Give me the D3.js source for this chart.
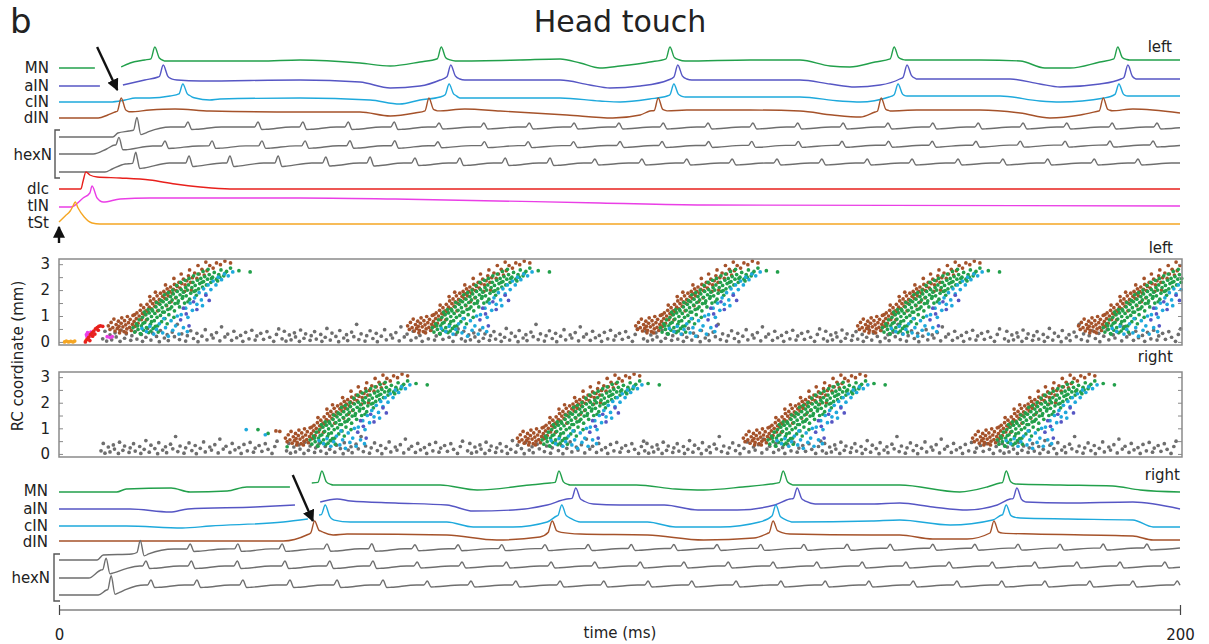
<!DOCTYPE html>
<html>
<head>
<meta charset="utf-8">
<script src="https://cdn.jsdelivr.net/npm/d3@7"></script>
<style>
  body { margin: 0; background: #fff; }
  text { font-family: "DejaVu Sans", sans-serif; fill: #222; }
</style>
</head>
<body>
<svg width="1209" height="644"></svg>
<script>
// ---- traces: [time ms, potential offset] keypoints; null = gap; spikes: [time ms, amplitude]
const mnLBase = [[0,0],[6.4,0],null,[11.1,1],[12.7,5],[15.3,8],[17.1,10],[18.9,7],[21,7],[35.9,7],[43,8],[53.7,5],[59.1,2],[64.4,6],[68.2,10],[70.7,7],[82.2,8],[89.4,9],[93,5],[96.5,0],[100.1,2],[105.4,6],[109,10],[111.7,7],[123.3,8],[132.2,8],[137.6,2],[141.1,1],[145.6,6],[149,10],[151,8],[164.3,8],[171.5,7],[175.9,0],[180.4,0],[185.7,6],[188.9,10],[191,8],[200,8]];
const mnLSpikes = [[17.1,11],[68.2,11],[109,11],[149,11],[188.9,11]];
const aInLBase = [[0,0],[7.3,0],null,[11.4,1],[15.3,6],[17.7,9],[18.6,11],[20,7],[21.1,6],[25.2,5],[43,6],[53.7,4],[59.1,-2],[64.4,0],[68,6],[69.9,11],[71.5,7],[72.4,6],[89.4,6],[94.7,1],[98.3,-2],[103.7,0],[108.7,6],[110.4,11],[112,7],[112.9,6],[132.2,6],[137.6,2],[142,-1],[146.5,1],[150,7],[151.3,11],[153,7],[169.7,7],[175,2],[178.6,-1],[185.7,2],[189.5,7],[190.7,11],[192,7],[200,7]];
const aInLSpikes = [[18.6,10],[69.9,10],[110.4,10],[151.3,10],[190.7,10]];
const cInLBase = [[0,0],[9.1,0],[11.8,2],[13.6,4],[16.2,4],[19.8,6],[22.1,9],[23.3,6],[24.3,4],[26.9,2],[28.7,3],[43,4],[55.5,2],[60.8,-2],[64.4,2],[68,5],[69.6,9],[70.8,6],[71.5,4],[89.4,4],[96.5,1],[100.1,0],[105.4,3],[108.5,6],[109.7,9],[110.8,6],[111.7,5],[132.2,5],[139.3,1],[142.9,0],[148.1,5],[149.7,9],[150.8,6],[151.8,6],[167.9,6],[175,1],[178.6,0],[186.5,4],[189.1,9],[190.2,6],[191.1,6],[200,6]];
const cInLSpikes = [[22.1,9],[69.6,9],[109.7,9],[149.7,9],[189.1,9]];
const dInLBase = [[0,0],[7,0],[8.7,3],[10,6],[11.1,8],[12.3,6],[16.2,8],[20.7,9],[26.9,7],[43,6],[53.7,6],[59.1,2],[63.5,5],[66,8],[67.3,7],[72.4,9],[78.7,7],[90.6,3],[98.8,0],[103.7,3],[105.4,7],[106.9,8],[108,7],[112,8],[123.3,8],[132.2,7],[138,3],[143,1],[145.6,6],[146.7,8],[148,7],[153,8],[164.3,8],[171.5,5],[176.8,0],[182.2,3],[185.5,7],[186.3,8],[187.5,7],[191.6,9],[200,5]];
const dInLSpikes = [[11.1,12],[66,12],[106.9,12],[146.7,12],[186.3,12]];
const hex1LBase = [[0,0],[9.6,0],[10.5,4],[12.5,6],[16,10],[200,10]];
const hex1LSpikes = [[13.9,12],[23.0,5],[35.5,5],[43.5,5],[51.6,5],[59.8,5],[67.8,4],[75.8,4],[83.9,4],[91.9,4],[99.9,4],[107.8,4],[115.8,4],[123.8,4],[131.8,4],[139.9,4],[147.9,4],[155.9,4],[164.0,4],[172.0,4],[179.8,4],[187.9,4],[195.9,4]];
const hex2LBase = [[0,0],[6.1,0],[8.5,5],[10,9],[12,8],[200,9]];
const hex2LSpikes = [[10.7,8],[18.9,5],[27.3,5],[36.2,5],[43.9,5],[51.9,5],[59.9,5],[67.6,4],[75.9,4],[83.7,4],[91.8,4],[100.1,4],[107.6,4],[115.9,4],[123.6,4],[131.9,4],[139.7,4],[148.0,4],[155.8,4],[163.6,4],[171.5,4],[179.5,4],[187.5,4],[195.2,4]];
const hex3LBase = [[0,0],[8.2,0],[9.5,3],[11.8,8],[14,9],[200,9]];
const hex3LSpikes = [[13.7,11],[23.2,7],[30.5,7],[39.1,7],[47.6,6],[55.5,6],[63.5,5],[71.5,5],[79.6,5],[87.6,5],[95.6,4],[104.0,4],[112.0,4],[120.1,4],[128.1,4],[136.1,4],[144.2,4],[152.2,4],[160.4,4],[168.4,4],[176.4,4],[184.7,4],[192.5,4]];
const dlcBase = [[0,0],[3.9,0],[4.3,8],[4.8,17],[5.5,14],[6.8,12],[10.9,11],[16.2,9],[20.7,5],[25.2,2],[30.5,0],[200,0]];
const tInBase = [[0,-1],[2.1,-1],[4.3,8],[5.5,13],[5.9,20],[6.8,8],[7.9,4],[10.9,7],[16.2,8],[43,8],[60,7],[96.5,3],[115,1],[200,0]];
const tStBase = [[0,1],[1.1,7],[2,12],[2.5,17],[2.9,21],[3.4,15],[4.5,6],[5.9,0],[7.3,-1],[200,-1]];

const mnRBase = [[0,0],[10.3,0],[12,3],[20,4],[23.4,0],[30,1],[33.5,5],[41.2,5],null,[45.1,9],[46.9,10],[48.9,7],[68,7],[74.6,2],[84,7],[87.6,9],[89.2,10],[91.2,7],[103,7],[110,3],[115,2],[122,5],[127,8],[129.2,10],[131,7],[150,7],[160.7,0],[165.6,5],[167.9,9],[169,10],[170.6,8],[178.6,7],[188,6],[192.9,2],[200,0]];
const mnRSpikes = [[46.9,11],[89.2,11],[129.2,11],[169,11]];
const aInRBase = [[0,0],[12.7,0],[19.8,-3],[23,0],[35,2],[42.1,4],null,[46.6,7],[49.6,10],[52,8],[60,6],[69.2,4],[73.9,-2],[81,-1],[87.1,4],[90.6,10],[92.2,11],[93.5,8],[95.3,5],[100,4],[108,4],[114,-1],[121,-1],[127.7,4],[130.4,10],[131.7,11],[133,8],[134.9,5],[145,5],[150,6],[155.9,2],[162,-1],[167.4,4],[169.7,10],[170.9,11],[172.3,7],[179.8,6],[191.6,7],[200,0]];
const aInRSpikes = [[92.2,10],[131.7,10],[170.9,10]];
const cInRBase = [[0,0],[12,0],[22,-2],[27,0],[40,4],[44.4,7],null,[46.4,11],[47.5,12],[48.9,6],[52,4],[69.2,4],[73.9,-1],[81,-1],[87.1,4],[88.8,10],[89.7,12],[90.6,9],[93,4],[105,4],[110,-1],[118,-1],[125,4],[127.2,10],[127.9,12],[128.8,8],[131,4],[145,5],[150,6],[159,1],[166.6,6],[168.2,11],[169,12],[170,9],[171.5,8],[180,7],[191.6,6],[195.2,-1],[200,-1]];
const cInRSpikes = [[47.5,9],[89.7,9],[127.9,9],[169,9]];
const dInRBase = [[0,0],[40,0],[44.2,6],[45.6,10],[46.9,9],[48.9,6],[51.4,7],[69.2,6],[78.1,1],[85.8,4],[87.4,9],[88,10],[88.8,9],[93,7],[105,6],[115,1],[124,3],[126.6,8],[127.4,10],[128.3,9],[130.4,7],[145,6],[150,6],[155.9,2],[162,2],[166.1,8],[166.8,10],[167.5,8],[173.8,7],[191.6,5],[195.2,1],[200,1]];
const dInRSpikes = [[45.6,10],[88,10],[127.4,10],[166.8,10]];
const hex1RBase = [[0,0],[6.8,0],[7.9,5],[13,6],[16,11],[200,12]];
const hex1RSpikes = [[14.5,11],[23.4,5],[31.9,5],[39.8,5],[47.8,5],[55.8,5],[63.5,4],[71.2,4],[79.0,4],[86.7,4],[94.4,4],[102.1,4],[109.7,4],[117.4,4],[125.2,4],[132.9,4],[140.6,4],[148.3,4],[155.9,4],[163.4,4],[171.1,4],[178.6,4],[186.3,4],[194.1,4]];
const hex2RBase = [[0,0],[5.3,0],[7.5,8],[9.5,10],[12,12],[200,12]];
const hex2RSpikes = [[8.4,11],[15.5,5],[23.6,5],[31.8,5],[40.3,5],[48.3,5],[56.0,5],[63.9,4],[71.9,4],[79.8,4],[87.8,4],[95.6,4],[103.7,4],[111.5,4],[119.4,4],[127.4,4],[135.2,4],[143.3,4],[151.1,4],[158.8,4],[166.5,4],[174.1,4],[181.6,4],[189.3,4],[197.3,4]];
const hex3RBase = [[0,0],[7,0],[8.5,5],[10.5,8],[12,10],[200,10]];
const hex3RSpikes = [[9.3,13],[16.4,5],[24.6,5],[32.8,5],[41.2,5],[49.6,5],[57.8,5],[65.7,4],[73.5,4],[81.5,4],[89.4,4],[97.2,4],[105.1,4],[112.9,4],[120.8,4],[128.8,4],[136.7,4],[144.5,4],[152.4,4],[160.2,4],[168.2,4],[175.9,4],[183.9,4],[191.6,4],[199.5,4]];

// ---- raster: burst onsets (ms) and burst dot pattern [ms after onset, RC mm]
const burstsLeft = [9.6, 63.0, 103.7, 143.3, 182.7];
const burstsRight = [41.2, 82.6, 122.9, 163.8];
const dInBurst = [[-0.8,0.62],[-0.5,0.48],[-0.3,0.75],[0.0,0.55],[0.2,0.88],[0.4,0.42],[0.6,0.67],[0.8,0.52],[1.0,0.8],[1.1,0.6],[1.3,0.45],[1.5,0.72],[1.6,0.93],[1.8,0.58],[2.0,0.4],[2.1,0.82],[2.3,0.66],[2.5,0.5],[2.6,0.98],[2.8,0.74],[3.0,0.56],[3.1,0.87],[3.3,0.44],[3.5,0.68],[3.6,1.02],[3.8,0.79],[4.0,0.6],[4.2,0.9],[4.3,1.12],[4.5,0.72],
  [4.7,1.0],[4.9,1.22],[5.1,0.86],[5.3,1.1],[5.5,1.32],[5.7,1.05],[5.9,1.2],[6.1,1.45],[6.3,1.15],[6.5,1.34],[6.7,1.58],[6.9,1.28],[7.1,1.48],[7.3,1.66],[7.5,1.38],[7.7,1.55],[7.9,1.78],[8.1,1.5],[8.3,1.64],[8.5,1.88],[8.7,1.58],[8.9,1.76],[9.1,1.95],[9.3,1.68],[9.5,1.85],[9.7,2.05],[9.9,1.78],[10.1,1.95],[10.3,2.12],[10.6,1.88],[10.8,2.03],[11.0,2.22],[11.3,1.98],[11.5,2.14],[11.8,2.3],[12.0,2.08],[12.3,2.25],[12.6,2.42],[12.9,2.2],[13.2,2.36],[13.5,2.55],[13.9,2.3],[14.2,2.48],[14.6,2.66],[15.0,2.45],[15.4,2.62],[15.9,2.8],[16.3,2.58],[16.8,2.75],[17.3,2.95],[17.9,2.85],[18.5,3.05],[19.2,2.98],[20.0,3.12],[21.0,3.05],
  [8.0,1.2],[9.6,1.4],[11.2,1.7],[12.8,1.95],[6.0,0.85],[14.0,2.0],[10.4,1.55],
  [3.9,1.05],[5.0,1.42],[6.6,1.75],[7.6,1.92],[9.4,2.2],[10.9,2.45],[12.2,2.62],[13.7,2.78],[15.2,2.95],[16.6,3.08],[2.4,0.35],[1.2,0.35]];
const mnBurst = [[3.6,0.55],[3.9,0.38],[4.2,0.7],[4.5,0.48],[4.7,0.85],[4.9,0.32],[5.1,0.62],[5.3,0.95],[5.5,0.45],[5.7,0.75],[5.9,1.05],[6.0,0.55],[6.2,0.88],[6.4,0.36],[6.5,1.12],[6.7,0.68],[6.9,0.98],[7.0,1.25],[7.2,0.52],[7.4,0.82],[7.5,1.1],[7.7,1.35],[7.9,0.95],[8.0,0.62],[8.2,1.22],[8.4,1.45],[8.5,1.02],[8.7,0.78],[8.8,1.32],[9.0,1.55],[9.2,1.15],[9.3,0.9],[9.5,1.42],[9.6,1.65],[9.8,1.25],[10.0,1.05],[10.1,1.52],[10.3,1.75],[10.5,1.35],[10.6,1.62],[10.8,1.85],[11.0,1.2],[11.1,1.48],[11.3,1.72],[11.5,1.95],[11.7,1.58],[11.9,1.35],[12.0,1.82],[12.2,2.02],[12.4,1.68],[12.6,1.92],[12.8,1.5],[13.0,2.1],[13.1,1.78],[13.3,2.0],[13.5,2.2],[13.7,1.65],[13.9,1.88],[14.1,2.1],[14.3,2.3],[14.5,1.95],[14.7,2.18],[14.9,1.8],[15.1,2.38],[15.3,2.05],[15.5,2.25],[15.7,2.45],[16.0,2.12],[16.2,2.33],[16.4,2.52],[16.7,2.2],[16.9,2.42],[17.2,2.6],[17.5,2.3],[17.8,2.5],[18.1,2.68],[18.5,2.42],[18.9,2.6],[19.3,2.78],[19.8,2.55],[20.3,2.72],[21.0,2.85],[22.5,2.75],[24.5,2.7],
  [5.0,0.3],[6.8,0.42],[8.1,0.38],[9.7,0.7],[7.6,0.6],[10.9,0.95],
  [5.6,1.15],[6.3,1.25],[7.1,1.2],[7.8,1.52],[8.6,1.6],[9.2,1.82],[9.9,1.9],[10.7,2.0],[11.4,2.18],[12.1,2.3],[12.9,2.38],[13.6,2.45],[14.4,2.55],[15.2,2.62],[16.1,2.72],[17.0,2.8],[6.9,0.78],[8.9,1.15],[10.2,1.28],[11.6,1.5],[12.5,1.75],[13.4,1.55],[14.8,1.98],[15.9,2.3],[17.6,2.45],[18.7,2.35],[19.1,2.5],[20.0,2.65],[4.4,0.62],[5.4,0.72]];
const cInBurst = [[5.2,0.52],[6.0,0.4],[6.6,0.6],[7.3,0.3],[7.8,0.48],[8.3,0.7],[8.9,0.35],[9.4,0.55],[9.9,0.22],[10.4,0.82],[10.7,0.45],[11.2,0.62],[11.8,0.3],[12.2,1.05],[12.6,0.55],[13.0,1.3],[13.4,0.95],[13.8,1.5],[14.2,1.22],[14.6,1.7],[15.0,1.45],[15.4,1.9],[15.8,1.62],[16.2,2.05],[16.6,1.85],[17.0,2.2],[17.5,2.02],[17.9,2.35],[18.4,2.2],[18.8,2.5],[19.4,2.4],[19.9,2.62],[20.6,2.55],[21.4,2.7],[13.3,0.4],[11.5,1.0],[16.0,1.4],[9.1,0.9]];
const aInBurst = [[12.6,1.3],[13.1,1.08],[14.4,1.55],[15.0,1.25],[13.6,0.62],[16.6,1.8],[17.2,1.6],[12.1,0.85]];
const hexDotPattern = [[0.3,0.12],[0.7,0.41],[1.0,0.03],[1.6,0.27],[1.9,0.08],[2.5,0.35],[2.7,0.19],[3.4,0.02],[3.6,0.46],[4.2,0.14],[4.5,0.31],[5.3,0.06],[5.5,0.24],[6.1,0.4],[6.4,0.11],[7.2,0.29],[7.4,0.02],[8.0,0.18],[8.3,0.52],[8.9,0.07],[9.2,0.34],[9.9,0.21],[10.4,0.01],[10.6,0.44],[11.3,0.15],[11.8,0.28],[12.0,0.05],[12.7,0.38],[13.1,0.2],[13.6,0.68],[14.0,0.09],[14.4,0.31],[15.1,0.03],[15.4,0.24],[16.0,0.43],[16.5,0.13],[17.1,0.33],[17.3,0.01],[18.0,0.22],[18.6,0.47],[18.9,0.08],[19.7,0.27],[20.0,0.15],[20.6,0.36],[21.2,0.04],[21.5,0.58],[22.1,0.19],[22.6,0.3],[23.3,0.06],[23.7,0.41],[24.2,0.16],[24.9,0.25],[25.3,0.02],[25.8,0.37],[26.4,0.12],[26.9,0.45],[27.5,0.07],[27.8,0.23],[28.5,0.33],[29.0,0.1],[29.6,0.4],[30.1,0.18],[30.8,0.02],[31.3,0.29],[31.7,0.5]];
const hexStartsLeft = [7.5, 39.5, 71.5, 104.0, 136.1, 168.4];
const hexStartsRight = [7.2, 40.3, 72.6, 104.2, 135.9, 167.6];
// single spikes outside the bursts: [ms, RC mm, cell type]
const extraLeft = [[1.0,0.0,"tSt"],[1.3,0.03,"tSt"],[1.7,0.0,"tSt"],[2.1,0.02,"tSt"],[2.5,0.0,"tSt"],[2.8,0.03,"tSt"],[4.8,0.05,"tSt"],
  [4.9,0.28,"tIN"],[5.1,0.36,"tIN"],[5.3,0.2,"tIN"],[5.5,0.3,"tIN"],[5.7,0.38,"tIN"],[5.2,0.14,"tIN"],[5.9,0.25,"tIN"],[6.1,0.33,"tIN"],[5.0,0.2,"tIN"],[8.6,0.2,"tIN"],[9.1,0.17,"tIN"],[9.5,0.2,"tIN"],
  [4.7,0.0,"dlc"],[5.0,0.1,"dlc"],[5.3,0.18,"dlc"],[5.6,0.28,"dlc"],[5.9,0.35,"dlc"],[6.2,0.42,"dlc"],[6.5,0.5,"dlc"],[6.8,0.55,"dlc"],[7.1,0.6,"dlc"],[7.4,0.62,"dlc"],[5.5,0.05,"dlc"],[6.0,0.22,"dlc"],[6.4,0.3,"dlc"],[7.0,0.45,"dlc"],[7.8,0.6,"dlc"]];
const extraRight = [[33.4,0.95,"cIN"],[35.5,0.95,"MN"],[37.3,0.8,"MN"],[38.7,0.9,"dIN"],[39.4,0.88,"dIN"],[40.7,0.28,"MN"],[36.8,0.75,"cIN"]];

const colors = { MN: "#22a04b", aIN: "#5656c4", cIN: "#1ea9dc", dIN: "#a5522a", hexN: "#6e6e6e",
  dlc: "#e8201c", tIN: "#ea3ee6", tSt: "#f5a623" };

const svg = d3.select("svg");
const x = d3.scaleLinear().domain([0, 200]).range([59, 1180]);
const mv = d3.scaleLinear().domain([0, 10]).range([0, -10]);

const spikeShape = [[-0.7,0],[0,1],[0.8,0.12],[1.6,0]];
const hexShape = [[-0.6,0],[0,1],[0.7,-0.5],[1.5,-0.45],[6,0]];

function lerpAt(pts, t) {
  if (t <= pts[0][0]) return pts[0][1];
  for (let i = 1; i < pts.length; i++) {
    if (t <= pts[i][0]) {
      const [t0, v0] = pts[i-1], [t1, v1] = pts[i];
      return v0 + (v1 - v0) * (t - t0) / (t1 - t0);
    }
  }
  return pts[pts.length-1][1];
}
function shapeAt(shape, dt) {
  if (dt <= shape[0][0] || dt >= shape[shape.length-1][0]) return 0;
  return lerpAt(shape, dt);
}
function sampleTrace(base, spikes, shape) {
  const segs = []; let cur = [];
  base.forEach(p => { if (p === null) { segs.push(cur); cur = []; } else cur.push(p); });
  segs.push(cur);
  return segs.map(seg => {
    const t0 = seg[0][0], t1 = seg[seg.length-1][0];
    const ts = new Set(seg.map(p => Math.round(p[0] * 100) / 100));
    spikes.forEach(([s]) => shape.forEach(([k]) => {
      const t = Math.round((s + k) * 100) / 100;
      if (t >= t0 && t <= t1) ts.add(t);
    }));
    return Array.from(ts).sort((a, b) => a - b).map(t =>
      [t, lerpAt(seg, t) + spikes.reduce((acc, [s, a]) => acc + a * shapeAt(shape, t - s), 0)]);
  });
}

const tracesLeft = [
  { y: 68, c: colors.MN, base: mnLBase, spikes: mnLSpikes, shape: spikeShape },
  { y: 86, c: colors.aIN, base: aInLBase, spikes: aInLSpikes, shape: spikeShape },
  { y: 102, c: colors.cIN, base: cInLBase, spikes: cInLSpikes, shape: spikeShape },
  { y: 118, c: colors.dIN, base: dInLBase, spikes: dInLSpikes, shape: spikeShape },
  { y: 137, c: colors.hexN, base: hex1LBase, spikes: hex1LSpikes, shape: hexShape },
  { y: 154, c: colors.hexN, base: hex2LBase, spikes: hex2LSpikes, shape: hexShape },
  { y: 172, c: colors.hexN, base: hex3LBase, spikes: hex3LSpikes, shape: hexShape },
  { y: 189, c: colors.dlc, base: dlcBase, spikes: [], shape: spikeShape },
  { y: 206, c: colors.tIN, base: tInBase, spikes: [], shape: spikeShape },
  { y: 223, c: colors.tSt, base: tStBase, spikes: [], shape: spikeShape }
];
const tracesRight = [
  { y: 492, c: colors.MN, base: mnRBase, spikes: mnRSpikes, shape: spikeShape },
  { y: 509, c: colors.aIN, base: aInRBase, spikes: aInRSpikes, shape: spikeShape },
  { y: 526, c: colors.cIN, base: cInRBase, spikes: cInRSpikes, shape: spikeShape },
  { y: 541, c: colors.dIN, base: dInRBase, spikes: dInRSpikes, shape: spikeShape },
  { y: 560, c: colors.hexN, base: hex1RBase, spikes: hex1RSpikes, shape: hexShape },
  { y: 578, c: colors.hexN, base: hex2RBase, spikes: hex2RSpikes, shape: hexShape },
  { y: 595, c: colors.hexN, base: hex3RBase, spikes: hex3RSpikes, shape: hexShape }
];

const line = d3.line().x(d => x(d[0])).y(d => mv(d[1])).curve(d3.curveMonotoneX);
[...tracesLeft, ...tracesRight].forEach(tr => {
  const g = svg.append("g").attr("transform", `translate(0,${tr.y})`);
  sampleTrace(tr.base, tr.spikes, tr.shape).forEach(seg => {
    g.append("path").attr("d", line(seg)).attr("fill", "none")
      .attr("stroke", tr.c).attr("stroke-width", 1.4).attr("stroke-linejoin", "round");
  });
});

// trace labels
function label(txt, xx, yy, anchor = "end", size = 15) {
  return svg.append("text").attr("x", xx).attr("y", yy).attr("text-anchor", anchor)
    .attr("dominant-baseline", "middle").attr("font-size", size).text(txt);
}
[["MN",68],["aIN",86],["cIN",102],["dIN",118],["hexN",155],["dlc",189],["tIN",206],["tSt",223]]
  .forEach(([t, yy]) => label(t, t === "hexN" ? 52 : 49, yy));
[["MN",491],["aIN",509],["cIN",526],["dIN",542],["hexN",578]]
  .forEach(([t, yy]) => label(t, t === "hexN" ? 50 : 48, yy));
svg.append("path").attr("d", "M60,130H55V178H60").attr("fill", "none").attr("stroke", "#555").attr("stroke-width", 1.4);
svg.append("path").attr("d", "M60,554H54V601H60").attr("fill", "none").attr("stroke", "#555").attr("stroke-width", 1.4);

// rasters
function drawRaster(top, bottom, bursts, hexStarts, extras) {
  const y = d3.scaleLinear().domain([-0.12, 3.2]).range([bottom, top]);
  const pts = [];
  hexStarts.forEach(s => hexDotPattern.forEach(([dt, rc]) => pts.push([s + dt, rc, "hexN"])));
  extras.forEach(p => pts.push(p));
  const groups = [["dIN", dInBurst], ["MN", mnBurst], ["cIN", cInBurst], ["aIN", aInBurst]];
  groups.forEach(([type, pattern]) => bursts.forEach(b => pattern.forEach(([dt, rc]) => pts.push([b + dt, rc, type]))));
  const g = svg.append("g");
  g.selectAll("circle").data(pts.filter(d => d[0] >= 0 && d[0] <= 200.4)).join("circle")
    .attr("cx", d => x(d[0])).attr("cy", d => y(d[1])).attr("r", 1.85).attr("fill", d => colors[d[2]]);
  g.append("rect").attr("x", x(0)).attr("y", top).attr("width", 1182 - x(0)).attr("height", bottom - top)
    .attr("fill", "none").attr("stroke", "#8a8a8a").attr("stroke-width", 1.5);
  const ax = g.append("g").attr("transform", `translate(${x(0)},0)`)
    .call(d3.axisLeft(y).tickValues([0, 0.5, 1, 1.5, 2, 2.5, 3]).tickSize(-4).tickPadding(9)
      .tickFormat(d => Number.isInteger(d) ? d : ""));
  ax.select(".domain").remove();
  ax.selectAll("line").attr("stroke", "#8a8a8a");
  ax.selectAll("text").attr("font-size", 15).attr("font-family", "DejaVu Sans").attr("fill", "#222");
  const axr = g.append("g").attr("transform", "translate(1182,0)")
    .call(d3.axisRight(y).tickValues([0, 0.5, 1, 1.5, 2, 2.5, 3]).tickSize(-4).tickFormat(""));
  axr.select(".domain").remove();
  axr.selectAll("line").attr("stroke", "#8a8a8a");
}
drawRaster(259, 345, burstsLeft, hexStartsLeft, extraLeft);
drawRaster(372, 457, burstsRight, hexStartsRight, extraRight);

svg.append("text").attr("transform", "translate(23,356) rotate(-90)").attr("text-anchor", "middle")
  .attr("font-size", 15).text("RC coordinate (mm)");

// side labels & titles
svg.append("text").attr("x", 1172).attr("y", 52).attr("text-anchor", "end").attr("font-size", 15).text("left");
svg.append("text").attr("x", 1173).attr("y", 253).attr("text-anchor", "end").attr("font-size", 15).text("left");
svg.append("text").attr("x", 1173).attr("y", 362).attr("text-anchor", "end").attr("font-size", 15).text("right");
svg.append("text").attr("x", 1180).attr("y", 480).attr("text-anchor", "end").attr("font-size", 15).text("right");
svg.append("text").attr("x", 620).attr("y", 32).attr("text-anchor", "middle").attr("font-size", 30).text("Head touch");
svg.append("text").attr("x", 10).attr("y", 33).attr("font-size", 34).text("b");

// time axis
const tax = svg.append("g").attr("transform", "translate(0,610)")
  .call(d3.axisBottom(x).tickValues([0, 200]).tickSize(5).tickPadding(14).tickFormat(d3.format("d")));
tax.select(".domain").attr("d", `M${x(0)},0H${x(200)}`).attr("stroke", "#444").attr("stroke-width", 1.2);
tax.selectAll(".tick line").attr("y1", -5).attr("y2", 5).attr("stroke", "#444").attr("stroke-width", 1.2);
tax.selectAll("text").attr("font-size", 15).attr("font-family", "DejaVu Sans").attr("fill", "#222");
svg.append("text").attr("x", 620).attr("y", 638).attr("text-anchor", "middle").attr("font-size", 15).text("time (ms)");

// arrows
svg.append("defs").append("marker").attr("id", "ah").attr("viewBox", "0 0 10 10").attr("refX", 9).attr("refY", 5)
  .attr("markerWidth", 5).attr("markerHeight", 5).attr("orient", "auto")
  .append("path").attr("d", "M0,0L10,5L0,10z").attr("fill", "#111");
[[x(6.8), 47, x(10.4), 90], [x(41.7), 475, x(45.3), 521], [x(0), 243, x(0), 227]].forEach(([x1, y1, x2, y2]) => {
  svg.append("line").attr("x1", x1).attr("y1", y1).attr("x2", x2).attr("y2", y2)
    .attr("stroke", "#111").attr("stroke-width", 2.4).attr("marker-end", "url(#ah)");
});
</script>
</body>
</html>
